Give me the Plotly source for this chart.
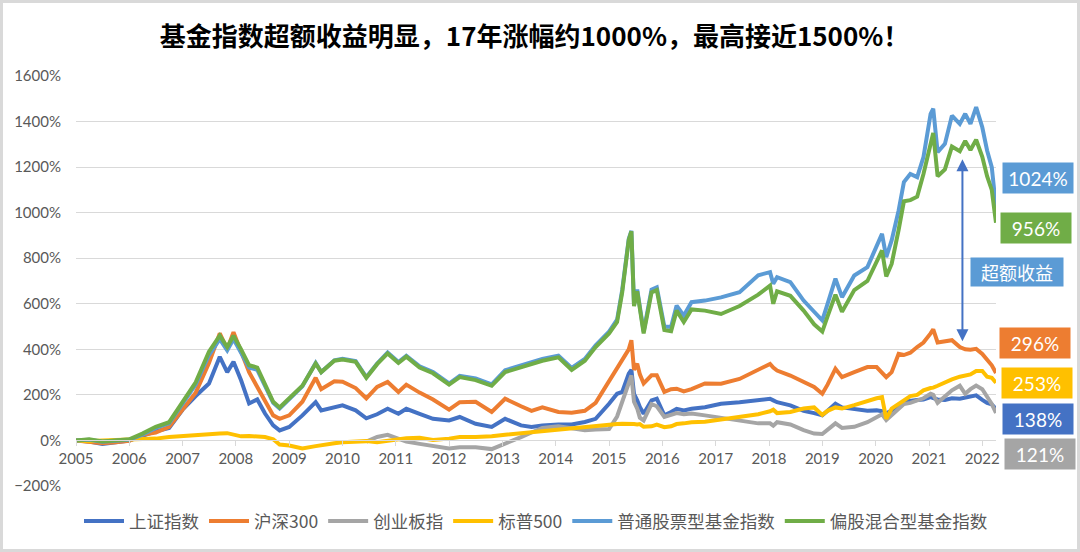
import plotly.graph_objects as go

# sample dates (roughly every 1-3 months, denser around the peaks)
dates = [
    "2005-01-01", "2005-04-01", "2005-07-01", "2005-10-01", "2006-01-01",
    "2006-04-01", "2006-07-01", "2006-10-01", "2007-01-01", "2007-04-01",
    "2007-07-01", "2007-09-13", "2007-11-03", "2007-12-16", "2008-02-06",
    "2008-04-01", "2008-05-27", "2008-07-19", "2008-09-13", "2008-10-27",
    "2009-01-01", "2009-04-01", "2009-07-01", "2009-08-08", "2009-11-06",
    "2010-01-01", "2010-04-01", "2010-06-13", "2010-08-26", "2010-11-06",
    "2011-01-19", "2011-03-14", "2011-06-13", "2011-09-13", "2012-01-01",
    "2012-03-14", "2012-07-01", "2012-10-19", "2013-01-19", "2013-05-08",
    "2013-07-19", "2013-10-01", "2014-01-19", "2014-04-20", "2014-07-19",
    "2014-10-01", "2015-01-01", "2015-02-25", "2015-04-01", "2015-05-16",
    "2015-06-03", "2015-06-21", "2015-07-13", "2015-07-31", "2015-08-26",
    "2015-10-19", "2015-11-24", "2016-01-15", "2016-03-01", "2016-04-08",
    "2016-05-27", "2016-07-19", "2016-10-19", "2017-02-06", "2017-06-13",
    "2017-10-19", "2018-01-08", "2018-01-30", "2018-02-25", "2018-05-27",
    "2018-08-26", "2018-11-06", "2019-01-01", "2019-02-06", "2019-04-01",
    "2019-05-16", "2019-08-08", "2019-11-06", "2020-01-08", "2020-02-14",
    "2020-03-14", "2020-04-20", "2020-06-07", "2020-07-13", "2020-08-26",
    "2020-10-12", "2020-11-24", "2021-01-12", "2021-01-30", "2021-03-01",
    "2021-04-20", "2021-06-07", "2021-07-31", "2021-09-06", "2021-10-12",
    "2021-11-20", "2022-01-01", "2022-02-03", "2022-03-07", "2022-04-05",
]

# cumulative returns, %
shanghai = [
    0, -5, -15, -8, 0, 20, 40, 55, 135, 195,
    250, 367, 300, 345, 264, 162, 180, 118, 66, 44,
    59, 110, 168, 132, 147, 154, 132, 97, 115, 139,
    117, 139, 117, 95, 88, 103, 73, 59, 95, 66,
    59, 66, 70, 70, 81, 95, 161, 205, 213, 293,
    310, 205, 176, 147, 117, 176, 183, 110, 125, 139,
    132, 139, 146, 161, 168, 176, 183, 176, 168, 154,
    130, 120, 110, 130, 161, 145, 139, 130, 132, 128,
    118, 130, 150, 170, 175, 178, 180, 190, 186, 180,
    178, 185, 183, 188, 190, 198, 178, 165, 158, 138,
]
hs300 = [
    0, -5, -12, -8, -2, 25, 35, 60, 135, 210,
    340, 470, 400, 475, 390, 300, 235, 170, 110, 95,
    110, 170, 275, 225, 260, 258, 230, 185, 235, 257,
    213, 245, 210, 180, 135, 168, 170, 125, 183, 150,
    130, 145, 125, 122, 130, 165, 260, 320, 350, 400,
    440, 310, 337, 290, 250, 286, 286, 213, 225, 227,
    215, 225, 250, 249, 270, 310, 336, 320, 307, 285,
    255, 235, 205, 245, 315, 278, 300, 322, 322, 300,
    278, 300, 380, 375, 385, 410, 430, 470, 488, 430,
    435, 440, 410, 400, 398, 402, 380, 355, 330, 296,
]
chinext = [
    None, None, None, None, None, None, None, None, None, None,
    None, None, None, None, None, None, None, None, None, None,
    None, None, None, None, None, None, None, -5, 15, 25,
    5, -5, -15, -25, -35, -30, -30, -38, -15, 15,
    35, 55, 62, 55, 45, 48, 50, 105, 170, 250,
    285, 170, 140, 100, 88, 160, 150, 103, 110, 120,
    115, 118, 110, 100, 85, 75, 75, 65, 80, 70,
    45, 30, 28, 45, 75, 55, 60, 80, 100, 115,
    90, 110, 140, 160, 165, 175, 185, 205, 200, 165,
    195, 220, 240, 205, 225, 241, 225, 195, 160, 121,
]
sp500 = [
    0, -3, 0, 2, 5, 10, 8, 15, 20, 22,
    28, 30, 32, 25, 18, 20, 18, 15, 5, -18,
    -22, -35, -25, -20, -12, -8, -5, -3, -8, 0,
    8, 10, 12, 2, 8, 15, 15, 18, 25, 32,
    38, 40, 50, 55, 62, 65, 70, 72, 73, 74,
    73, 72, 70, 72, 60, 62, 70, 58, 62, 72,
    75, 80, 82, 92, 100, 115, 128, 135, 120, 125,
    140, 145, 112, 130, 145, 140, 155, 175, 185, 190,
    95, 140, 160, 180, 195, 200, 220, 230, 232, 240,
    255, 268, 280, 285, 290, 305, 305, 280, 275, 253,
]
stock_fund = [
    0, 3, -6, -2, 3, 25, 55, 75, 160, 245,
    375, 445, 395, 445, 385, 320, 310, 240, 165, 140,
    180, 238, 340, 300, 352, 358, 348, 278, 338, 386,
    344, 372, 325, 300, 250, 284, 272, 246, 308, 328,
    343, 358, 372, 318, 358, 418, 478, 530, 660, 885,
    920, 595, 662, 582, 478, 662, 672, 500, 498, 592,
    548, 607, 614, 628, 651, 725, 739, 688, 717, 695,
    614, 565, 527, 600, 710, 629, 724, 761, 849, 907,
    805, 878, 1010, 1134, 1170, 1156, 1244, 1434, 1456, 1266,
    1302, 1426, 1390, 1434, 1390, 1463, 1375, 1273, 1200, 1024,
]
mixed_fund = [
    0, 5, -5, 0, 5, 30, 60, 80, 170, 255,
    390, 460, 410, 460, 400, 330, 320, 250, 170, 145,
    185, 240, 338, 300, 350, 355, 345, 275, 335, 382,
    340, 368, 320, 295, 245, 278, 265, 240, 300, 320,
    335, 350, 365, 310, 350, 410, 470, 520, 650, 880,
    918, 590, 655, 575, 470, 650, 660, 485, 480, 570,
    520, 575, 570, 555, 590, 640, 680, 600, 655, 635,
    570, 510, 478, 545, 640, 565, 660, 700, 790, 834,
    720, 775, 925, 1050, 1055, 1070, 1170, 1310, 1350, 1160,
    1190, 1290, 1270, 1315, 1275, 1320, 1245, 1160, 1100, 956,
]

names = ["上证指数", "沪深300", "创业板指", "标普500", "普通股票型基金指数", "偏股混合型基金指数"]
series = [shanghai, hs300, chinext, sp500, stock_fund, mixed_fund]
colors = ["#4472C4", "#ED7D31", "#A5A5A5", "#FFC000", "#5B9BD5", "#70AD47"]
end_labels = ["138%", "296%", "121%", "253%", "1024%", "956%"]

FONT = "Lato, 'Noto Sans CJK SC', sans-serif"
CJK = "'Noto Sans CJK SC', Lato, sans-serif"

# plot box in pixels, used to place the side labels
L, R, T, B = 76, 996, 76, 486
W, H = 1080, 552


def px(x):
    return (x - L) / (R - L)


def py(y):
    return (B - y) / (B - T)


fig = go.Figure()
for name, ys, c in zip(names, series, colors):
    fig.add_trace(go.Scatter(
        x=dates, y=ys, name=name, mode="lines",
        line=dict(color=c, width=4),
        connectgaps=False,
    ))

# label boxes on the right: (series index, centre x px, centre y px)
label_pos = [(4, 1038, 178), (5, 1036, 228), (1, 1035, 343),
             (3, 1037, 383), (0, 1038, 419), (2, 1040, 454)]
annotations = []
for i, cx, cy in label_pos:
    annotations.append(dict(
        x=px(cx), y=py(cy), xref="paper", yref="paper",
        text=end_labels[i], showarrow=False,
        xanchor="center", yanchor="middle",
        bgcolor=colors[i], width=68, height=28, borderpad=1,
        font=dict(family=FONT, size=19, color="white"),
    ))

annotations.append(dict(
    x=px(1017), y=py(272), xref="paper", yref="paper",
    text="超额收益", showarrow=False,
    xanchor="center", yanchor="middle",
    bgcolor="#5B9BD5", width=90, height=26, borderpad=1,
    font=dict(family=CJK, size=18, color="white"),
))

# double arrow between fund index and CSI 300
annotations.append(dict(
    x="2021-08-18", y=436, xref="x", yref="y",
    ax="2021-08-18", ay=1241, axref="x", ayref="y",
    text="", showarrow=True, arrowside="end+start",
    arrowhead=2, arrowsize=1.2, arrowwidth=2, arrowcolor="#4472C4",
))

fig.update_layout(
    width=W, height=H,
    margin=dict(l=L, r=W - R, t=T, b=H - B),
    paper_bgcolor="white", plot_bgcolor="white",
    title=dict(
        text="<b>基金指数超额收益明显，17年涨幅约1000%，最高接近1500%！</b>",
        x=0.495, xanchor="center", y=1 - 37 / H, yanchor="middle",
        font=dict(family=CJK, size=26, color="#000000"),
    ),
    xaxis=dict(
        type="date",
        range=["2005-01-01", "2022-04-05"],
        dtick="M12", tick0="2005-01-01", tickformat="%Y",
        anchor="free", position=200 / 1800,
        showgrid=False, showline=True, linecolor="#D9D9D9", linewidth=1,
        ticks="outside", ticklen=5, tickcolor="#D9D9D9",
        tickfont=dict(family=FONT, size=15, color="#595959"),
    ),
    yaxis=dict(
        range=[-200, 1600], dtick=200, ticksuffix="%",
        showgrid=True, gridcolor="#D9D9D9", gridwidth=1,
        zeroline=False, showline=False,
        ticklabelstandoff=14,
        tickfont=dict(family=FONT, size=15, color="#595959"),
    ),
    legend=dict(
        orientation="h", x=0.5, xanchor="center",
        y=py(521), yanchor="middle",
        font=dict(family=CJK, size=17.5, color="#595959"),
        itemwidth=40,
    ),
    annotations=annotations,
    shapes=[dict(
        type="rect", xref="paper", yref="paper",
        x0=px(1.5), x1=px(W - 1.5), y0=py(H - 1.5), y1=py(1.5),
        line=dict(color="#D9D9D9", width=3),
    )],
    showlegend=True,
)

# drop the browser's default 8px page margin so the figure sits at 0,0
fig.write_html("out.html", config={"displayModeBar": False},
               post_script="document.body.style.margin='0';")
